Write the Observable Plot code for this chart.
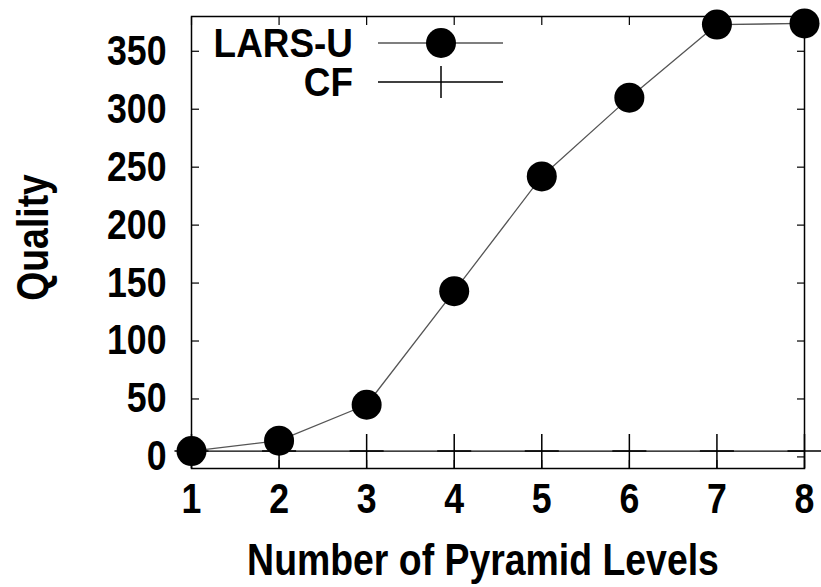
<!DOCTYPE html>
<html><head><meta charset="utf-8">
<script src="https://cdn.jsdelivr.net/npm/d3@7"></script>
<script src="https://cdn.jsdelivr.net/npm/@observablehq/plot@0.6"></script>
<style>
body{margin:0;background:#fff;}
#chart svg{display:block;}
</style></head><body><div id="chart"></div>
<script>
const levels = [1, 2, 3, 4, 5, 6, 7, 8];
const larsU = [5, 14, 45, 143, 242, 310, 373, 374];
const cf = [5, 5, 5, 5, 5, 5, 5, 5];
const yTicks = [0, 50, 100, 150, 200, 250, 300, 350];
const seriesNames = ["LARS-U", "CF"];
const xLabel = "Number of Pyramid Levels";
const yLabel = "Quality";

const FONT = '"Liberation Sans", Arial, sans-serif';
const larsData = levels.map((x, i) => ({x, y: larsU[i]}));
const cfData = levels.map((x, i) => ({x, y: cf[i]}));

const chart = Plot.plot({
  width: 821, height: 587,
  marginLeft: 191, marginRight: 17, marginTop: 16, marginBottom: 119,
  style: {fontFamily: FONT, fontWeight: "bold", fontSize: "42px", color: "#000", background: "#fff", overflow: "visible"},
  x: {domain: [1, 8]},
  y: {domain: [-10, 380]},
  marks: [
    Plot.axisY(yTicks, {anchor: "left", tickSize: 8, dx: 8, text: null, label: null, strokeWidth: 1.2}),
    Plot.axisY(yTicks, {anchor: "right", tickSize: 8, dx: -8, text: null, label: null, strokeWidth: 1.2}),
    Plot.axisX(levels, {anchor: "top", tickSize: 8, dy: 8, text: null, label: null, strokeWidth: 1.2}),
    Plot.axisX(levels, {anchor: "bottom", tickSize: 8, dy: -8, text: null, label: null, strokeWidth: 1.2}),
    Plot.axisY(yTicks, {anchor: "left", tickSize: 0, tickPadding: 25, label: null, fontSize: 42}),
    Plot.axisX(levels, {anchor: "bottom", tickSize: 0, tickPadding: 15, label: null, fontSize: 42}),
    Plot.frame({stroke: "#000", strokeWidth: 1.5}),
    Plot.text([xLabel], {frameAnchor: "bottom", textAnchor: "middle", lineAnchor: "middle", dy: 92, dx: -15, fontSize: 44}),
    Plot.text([yLabel], {frameAnchor: "left", textAnchor: "middle", lineAnchor: "middle", rotate: -90, dx: -158, dy: -5, fontSize: 44}),
    Plot.line(cfData, {x: "x", y: "y", stroke: "#000", strokeWidth: 1.3}),
    Plot.dot(cfData, {x: "x", y: "y", symbol: "plus", r: 11, stroke: "#000", strokeWidth: 1.5}),
    Plot.line(larsData, {x: "x", y: "y", stroke: "#555", strokeWidth: 1.3}),
    Plot.dot(larsData, {x: "x", y: "y", r: 15, fill: "#000", stroke: "none"})
  ]
});
document.getElementById("chart").appendChild(chart);

// legend (inside plot, top-left)
const svg = d3.select(chart);
const lg = svg.append("g").attr("class", "legend").attr("font-family", FONT).attr("font-weight", "bold").attr("font-size", 41);
const rowsY = [43, 82];
seriesNames.forEach((name, i) => {
  const y = rowsY[i];
  lg.append("text").attr("x", 353).attr("y", y).attr("dy", "0.35em").attr("text-anchor", "end").attr("fill", "#000").text(name);
  lg.append("line").attr("x1", 378).attr("x2", 503).attr("y1", y).attr("y2", y).attr("stroke", i === 0 ? "#555" : "#000").attr("stroke-width", 1.3);
  if (i === 0) {
    lg.append("circle").attr("cx", 441).attr("cy", y).attr("r", 15).attr("fill", "#000");
  } else {
    lg.append("line").attr("x1", 441).attr("x2", 441).attr("y1", y - 16).attr("y2", y + 16).attr("stroke", "#000").attr("stroke-width", 1.5);
  }
});

// condensed look: squeeze every text along its writing direction, keeping its anchor fixed
svg.selectAll("text").nodes().forEach(t => {
  const wrap = document.createElementNS("http://www.w3.org/2000/svg", "g");
  t.parentNode.insertBefore(wrap, t);
  wrap.appendChild(t);
  const bb = wrap.getBBox();
  const sx = t.closest("g.legend") ? 0.9 : 0.85;
  const rotated = /rotate/.test(t.getAttribute("transform") || "");
  if (rotated) {
    const cy = bb.y + bb.height / 2;
    wrap.setAttribute("transform", `translate(0,${cy}) scale(1,${sx}) translate(0,${-cy})`);
  } else {
    const anchor = getComputedStyle(t).textAnchor;
    const ax = anchor === "end" ? bb.x + bb.width : anchor === "middle" ? bb.x + bb.width / 2 : bb.x;
    wrap.setAttribute("transform", `translate(${ax},0) scale(${sx},1) translate(${-ax},0)`);
  }
});
</script>
</body></html>
